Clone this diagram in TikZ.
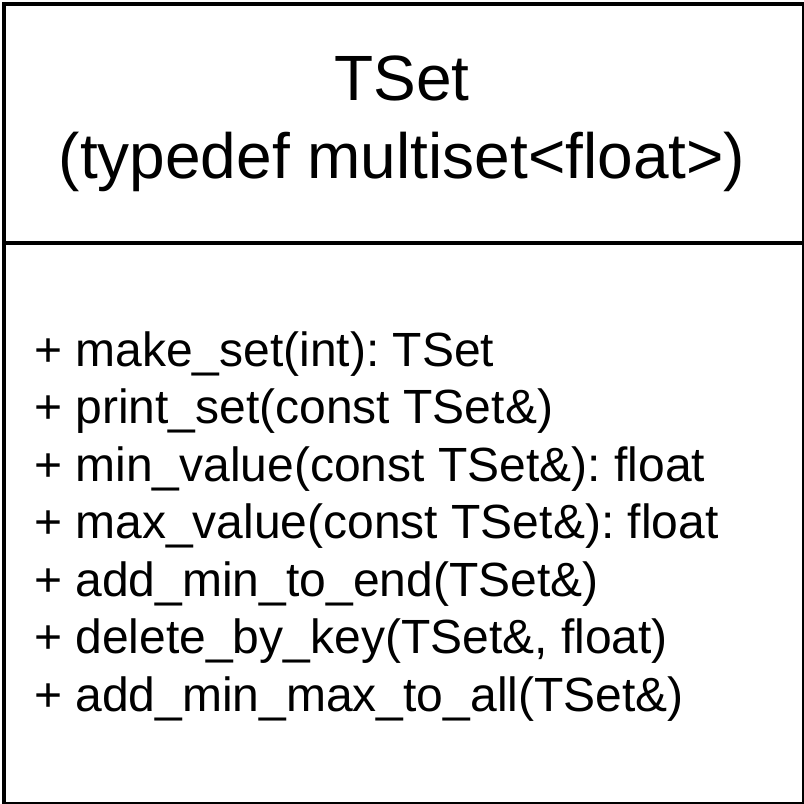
\documentclass[tikz,border=0pt]{standalone}
\usepackage{fontspec}
\setmainfont{Liberation Sans}
\frenchspacing
\begin{document}
\begin{tikzpicture}[x=1pt,y=-1pt,
  frame/.style={draw=black,line width=4pt},
  titletext/.style={font=\fontsize{64}{76.8}\selectfont\frenchspacing,inner sep=0pt,anchor=base},
  methodtext/.style={font=\fontsize{48}{57.6}\selectfont\frenchspacing,inner sep=0pt,anchor=base west}]
\useasboundingbox (0,0) rectangle (804,804);
\node[frame,minimum width=800pt,minimum height=800pt,anchor=north west,inner sep=0pt] (box) at (2,2) {};
\coordinate (divl) at (2,242.5);
\coordinate (divr) at (802,242.5);
\draw[frame] (divl) -- (divr);
\node[titletext] (t1) at (402,100) {TSet};
\node[titletext] (t2) at (402,178) {(typedef multiset<float>)};
\node[methodtext] (m1) at (34,366) {+ make\_set(int): TSet};
\node[methodtext] (m2) at (34,423.5) {+ print\_set(const TSet\&)};
\node[methodtext] (m3) at (34,481) {+ min\_value(const TSet\&): float};
\node[methodtext] (m4) at (34,538.5) {+ max\_value(const TSet\&): float};
\node[methodtext] (m5) at (34,596) {+ add\_min\_to\_end(TSet\&)};
\node[methodtext] (m6) at (34,653.5) {+ delete\_by\_key(TSet\&, float)};
\node[methodtext] (m7) at (34,711) {+ add\_min\_max\_to\_all(TSet\&)};
\end{tikzpicture}
\end{document}
